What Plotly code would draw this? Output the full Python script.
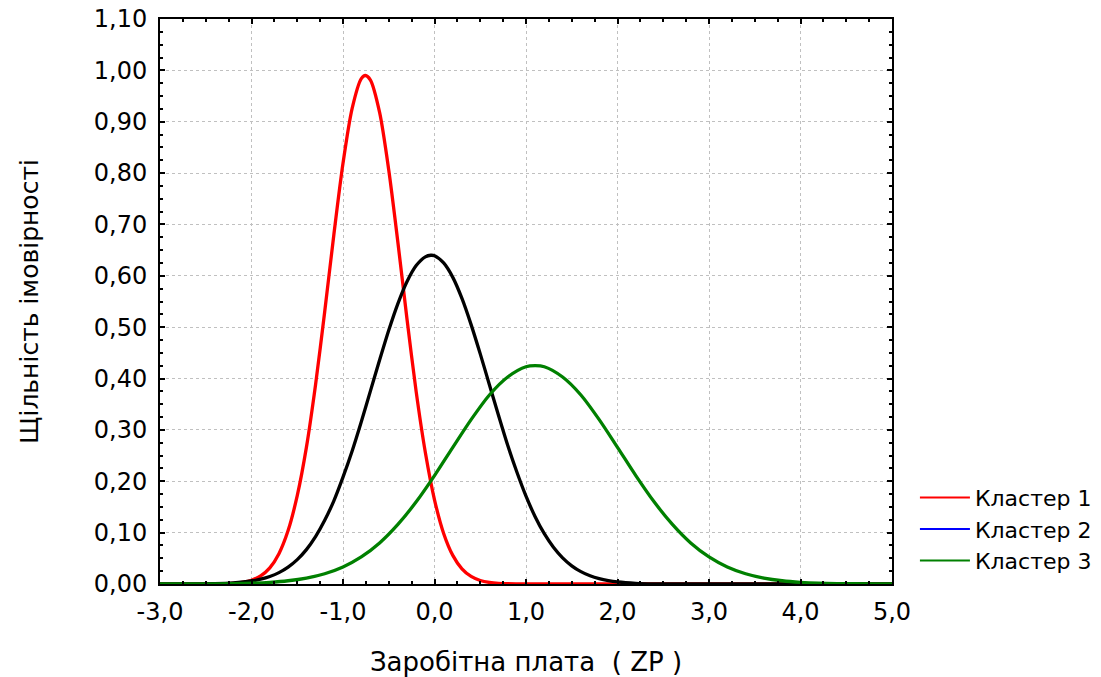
import plotly.graph_objects as go

# ---- data ----
x_tick_values = [-3, -2, -1, 0, 1, 2, 3, 4, 5]
x_tick_labels = ["-3,0", "-2,0", "-1,0", "0,0", "1,0", "2,0", "3,0", "4,0", "5,0"]
y_tick_values = [0.0, 0.1, 0.2, 0.3, 0.4, 0.5, 0.6, 0.7, 0.8, 0.9, 1.0, 1.1]
y_tick_labels = ["0,00", "0,10", "0,20", "0,30", "0,40", "0,50", "0,60", "0,70", "0,80",
                 "0,90", "1,00", "1,10"]

cluster1_x = [-3.0, -2.5, -2.2, -2.1, -2.0, -1.9, -1.8, -1.7, -1.6, -1.5, -1.4, -1.3, -1.2, -1.1,
              -1.0, -0.9, -0.8, -0.755, -0.7, -0.6, -0.5, -0.4, -0.3, -0.2, -0.1, 0.0, 0.1, 0.2,
              0.3, 0.4, 0.5, 0.6, 0.7, 1.0, 5.0]
cluster1_y = [0.0, 0.0001, 0.0014, 0.0033, 0.0074, 0.0158, 0.0315, 0.0591, 0.104, 0.172, 0.266,
              0.388, 0.530, 0.680, 0.819, 0.926, 0.984, 0.990, 0.981, 0.918, 0.806, 0.665, 0.515,
              0.374, 0.256, 0.164, 0.0985, 0.0557, 0.0295, 0.0147, 0.0069, 0.0030, 0.0012, 0.0001, 0.0]

# overall curve (drawn in black in the reference, without its own legend entry)
overall_x = [-3.0, -2.4, -2.2, -2.0, -1.9, -1.8, -1.7, -1.6, -1.5, -1.4, -1.3, -1.2, -1.1, -1.0,
             -0.9, -0.8, -0.7, -0.6, -0.5, -0.4, -0.3, -0.2, -0.1, -0.04, 0.0, 0.1, 0.2, 0.3, 0.4,
             0.5, 0.6, 0.7, 0.8, 0.9, 1.0, 1.1, 1.2, 1.3, 1.4, 1.5, 1.6, 1.7, 1.8, 1.9, 2.0, 2.2,
             2.4, 3.0, 5.0]
overall_y = [0.0, 0.0007, 0.0022, 0.0059, 0.0094, 0.0146, 0.0221, 0.0328, 0.0474, 0.0669, 0.0922,
             0.124, 0.162, 0.208, 0.259, 0.316, 0.376, 0.436, 0.494, 0.546, 0.589, 0.620, 0.637,
             0.640, 0.639, 0.625, 0.597, 0.556, 0.505, 0.448, 0.388, 0.328, 0.270, 0.218, 0.171,
             0.131, 0.0979, 0.0715, 0.0509, 0.0354, 0.0240, 0.0159, 0.0103, 0.0065, 0.0040,
             0.0014, 0.0004, 0.0, 0.0]

cluster3_x = [-3.0, -2.6, -2.2, -2.0, -1.8, -1.6, -1.4, -1.2, -1.0, -0.8, -0.6, -0.4, -0.2, 0.0,
              0.2, 0.4, 0.6, 0.8, 1.0, 1.1, 1.2, 1.4, 1.6, 1.8, 2.0, 2.2, 2.4, 2.6, 2.8, 3.0, 3.2,
              3.4, 3.6, 3.8, 4.0, 4.2, 4.4, 4.8, 5.0]
cluster3_y = [0.0, 0.0002, 0.0008, 0.0016, 0.0033, 0.0063, 0.0115, 0.0200, 0.0332, 0.0527, 0.0799,
              0.116, 0.160, 0.211, 0.266, 0.320, 0.368, 0.403, 0.423, 0.425, 0.423, 0.403, 0.368,
              0.320, 0.266, 0.211, 0.160, 0.116, 0.0799, 0.0527, 0.0332, 0.0200, 0.0115, 0.0063,
              0.0033, 0.0016, 0.0008, 0.0002, 0.0001]

names = ["Кластер 1", "Кластер 2", "Кластер 3"]
legend_colors = ["#ff0000", "#0000ff", "#008000"]
x_title = "Заробітна плата  ( ZP )"
y_title = "Щільність імовірності"

FONT = "DejaVu Sans, Liberation Sans, Arial, sans-serif"

fig = go.Figure()
# curves
fig.add_trace(go.Scatter(x=cluster1_x, y=cluster1_y, mode="lines", name=names[0],
                         legendgroup="c1", showlegend=False,
                         line=dict(color="#ff0000", width=3.3, shape="spline", smoothing=0.8)))
fig.add_trace(go.Scatter(x=overall_x, y=overall_y, mode="lines", name="", showlegend=False,
                         line=dict(color="#000000", width=3.3, shape="spline", smoothing=0.8)))
fig.add_trace(go.Scatter(x=cluster3_x, y=cluster3_y, mode="lines", name=names[2],
                         legendgroup="c3", showlegend=False,
                         line=dict(color="#008000", width=3.3, shape="spline", smoothing=0.8)))
# legend entries (thin lines as in the reference legend)
for i, (nm, col) in enumerate(zip(names, legend_colors)):
    fig.add_trace(go.Scatter(x=[None], y=[None], mode="lines", name=nm,
                             legendgroup="c%d" % (i + 1), legendrank=i + 1,
                             line=dict(color=col, width=2)))

axis_common = dict(
    showline=True, linecolor="black", linewidth=2, mirror="allticks",
    ticks="inside", ticklen=5, tickwidth=1.5, tickcolor="black",
    showgrid=True, gridcolor="#c0c0c0", griddash="dot", gridwidth=1,
    zeroline=False, automargin=False,
    tickfont=dict(family=FONT, size=24, color="black"),
)

fig.update_xaxes(
    range=[-3, 5], tickvals=x_tick_values, ticktext=x_tick_labels,
    minor=dict(dtick=0.25, ticks="inside", ticklen=3, tickcolor="black", showgrid=False),
    title=dict(text=x_title, font=dict(family=FONT, size=26, color="black"), standoff=28),
    ticklabelstandoff=5,
    **axis_common,
)
fig.update_yaxes(
    range=[0, 1.1], tickvals=y_tick_values, ticktext=y_tick_labels,
    minor=dict(dtick=0.025, ticks="inside", ticklen=3, tickcolor="black", showgrid=False),
    title=dict(text=y_title, font=dict(family=FONT, size=25, color="black"), standoff=48),
    ticklabelstandoff=6,
    **axis_common,
)

fig.update_layout(
    width=1101, height=677, autosize=False,
    margin=dict(l=160, r=209, t=19, b=93, autoexpand=False),
    paper_bgcolor="white", plot_bgcolor="white",
    separators=", ",
    font=dict(family=FONT, color="black"),
    legend=dict(xref="container", yref="container", x=0.831, xanchor="left",
                y=0.296, yanchor="top",
                font=dict(family=FONT, size=22, color="black"),
                bgcolor="rgba(0,0,0,0)", itemwidth=50, tracegroupgap=0),
)

fig.write_html(
    "out.html",
    config={"displayModeBar": False, "responsive": False},
    post_script="document.body.style.margin='0px';document.body.style.overflow='hidden';",
)
